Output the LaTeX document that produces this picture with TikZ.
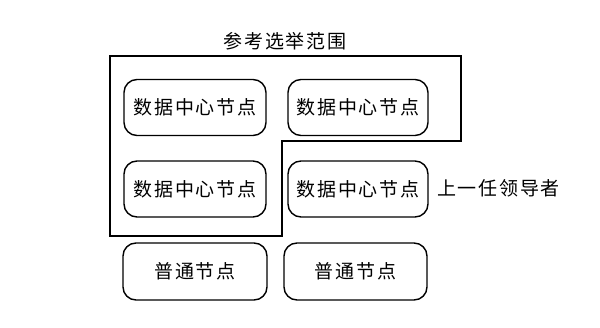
\documentclass[tikz,border=0pt]{standalone}
\usepackage{fontspec}
\newfontfamily\cjk[LetterSpace=9]{Noto Sans CJK SC}
\begin{document}
\begin{tikzpicture}[x=1pt,y=-1pt,
  dcbox/.style={draw,line width=1.4pt,rounded corners=13pt,minimum width=142pt,minimum height=56pt,inner sep=0pt,font=\cjk\fontsize{19}{22}\selectfont},
  lbl/.style={inner sep=0pt,font=\cjk\fontsize{19}{22}\selectfont}]
\useasboundingbox (0,0) rectangle (600,328);
\fill[white] (0,0) rectangle (600,328);
\node[lbl] (title) at (285,41) {参考选举范围};
\node[dcbox] (a) at (195,107.5) {数据中心节点};
\node[dcbox,minimum width=140pt] (b) at (358,107.5) {数据中心节点};
\node[dcbox] (c) at (195,189) {数据中心节点};
\node[dcbox,minimum width=140pt] (d) at (358,189) {数据中心节点};
\node[dcbox,minimum width=144pt,minimum height=57pt] (e) at (195,271.5) {普通节点};
\node[dcbox,minimum width=143pt,minimum height=57pt] (f) at (355.5,271.5) {普通节点};
\node[lbl,anchor=west] (leader) at (437,188) {上一任领导者};
\coordinate (p1) at (110,56);
\coordinate (p2) at (461,56);
\coordinate (p3) at (461,141);
\coordinate (p4) at (282,141);
\coordinate (p5) at (282,236);
\coordinate (p6) at (110,236);
\draw[line width=1.6pt] (p1) -- (p2) -- (p3) -- (p4) -- (p5) -- (p6) -- cycle;
\end{tikzpicture}
\end{document}
